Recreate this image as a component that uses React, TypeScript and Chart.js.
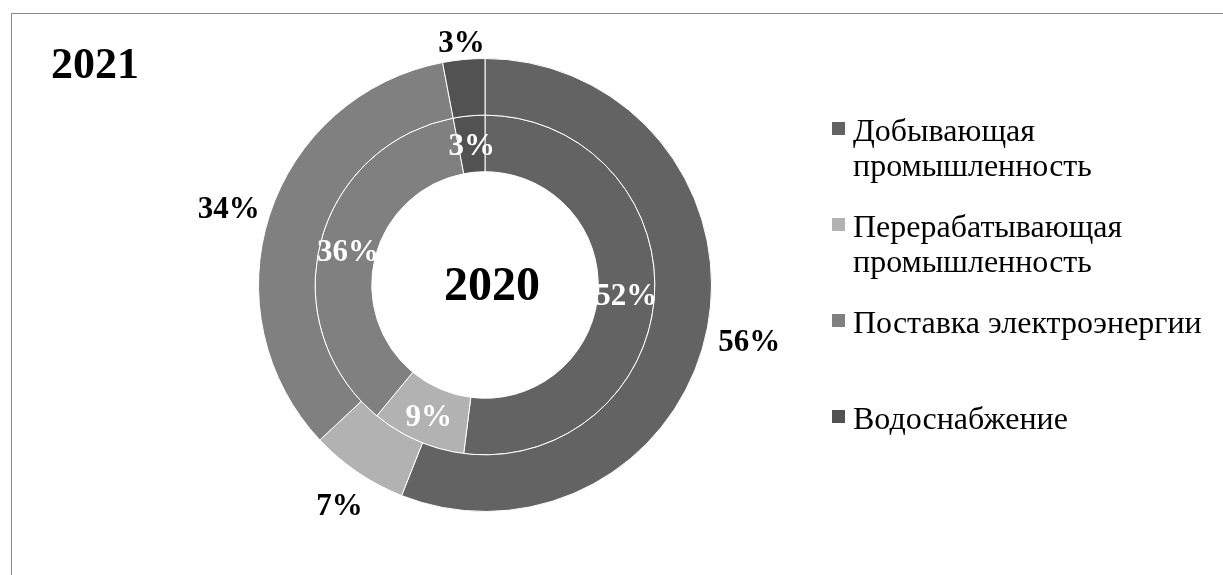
import React, { useEffect, useRef } from "react";
import { Chart, registerables } from "chart.js";

Chart.register(...registerables);

const categories = [
  "Добывающая промышленность",
  "Перерабатывающая промышленность",
  "Поставка электроэнергии",
  "Водоснабжение",
];
const years = ["2021", "2020"];
const values2021 = [56, 7, 34, 3];
const values2020 = [52, 9, 36, 3];
const colors = ["#636363", "#b2b2b2", "#808080", "#525252"];

const W = 1223;
const H = 575;

const labelPlugin = {
  id: "ringLabels",
  afterDatasetsDraw(chart: any) {
    const ctx = chart.ctx;
    ctx.save();
    let cx = 0;
    let cy = 0;
    chart.data.datasets.forEach((ds: any, di: number) => {
      const meta = chart.getDatasetMeta(di);
      meta.data.forEach((arc: any, i: number) => {
        const p = arc.getProps(["x", "y", "startAngle", "endAngle", "innerRadius", "outerRadius"], true);
        cx = p.x;
        cy = p.y;
        const mid = (p.startAngle + p.endAngle) / 2;
        const text = ds.data[i] + "%";
        ctx.font = "bold 31px 'Liberation Serif'";
        ctx.textAlign = "center";
        ctx.textBaseline = "middle";
        const c = Math.cos(mid);
        const s = Math.sin(mid);
        let r: number;
        let dy: number;
        if (di === 0) {
          const w = ctx.measureText(text).width;
          r = p.outerRadius + 10 + (Math.abs(c) * w) / 2 + Math.abs(s) * 11;
          dy = 8;
          ctx.fillStyle = "#000";
        } else {
          r = (p.innerRadius + p.outerRadius) / 2;
          dy = 3;
          ctx.fillStyle = "#ffffff";
        }
        ctx.fillText(text, p.x + c * r, p.y + s * r + dy);
      });
    });
    // centre label: inner ring year
    ctx.fillStyle = "#000";
    ctx.font = "bold 48px 'Liberation Serif'";
    ctx.textAlign = "center";
    ctx.textBaseline = "alphabetic";
    ctx.fillText(chart.data.datasets[1].label, cx + 7, cy + 15);
    // outer ring year, top-left
    ctx.font = "bold 44px 'Liberation Serif'";
    ctx.textAlign = "left";
    ctx.fillText(chart.data.datasets[0].label, 51, 78);
    ctx.restore();
  },
};

export default function App() {
  const ref = useRef<HTMLCanvasElement | null>(null);

  useEffect(() => {
    if (!ref.current) return;
    const chart = new Chart(ref.current, {
      type: "doughnut",
      data: {
        labels: categories,
        datasets: [
          {
            label: years[0],
            data: values2021,
            backgroundColor: colors,
            borderColor: "#ffffff",
            borderWidth: 1,
          },
          {
            label: years[1],
            data: values2020,
            backgroundColor: colors,
            borderColor: "#ffffff",
            borderWidth: 1,
          },
        ],
      },
      options: {
        responsive: false,
        animation: false,
        cutout: "50%",
        layout: {
          padding: { left: 258, right: 511, top: 58, bottom: 63 },
        },
        plugins: {
          legend: { display: false },
          tooltip: { enabled: false },
        },
      },
      plugins: [labelPlugin],
    });
    return () => chart.destroy();
  }, []);

  return (
    <div style={{ position: "fixed", left: 0, top: 0, width: W, height: H, background: "#fff", overflow: "hidden" }}>
      <div
        style={{
          position: "absolute",
          left: 11,
          top: 13,
          width: W + 50,
          height: H + 50,
          borderTop: "1px solid #8a8a8a",
          borderLeft: "1px solid #8a8a8a",
        }}
      />
      <canvas ref={ref} width={W} height={H} style={{ position: "absolute", left: 0, top: 0, width: W, height: H }} />
      {categories.map((name, i) => (
        <div
          key={name}
          style={{
            position: "absolute",
            left: 832,
            top: 113 + i * 96,
            display: "flex",
            alignItems: "flex-start",
            fontFamily: "'Liberation Serif', 'Times New Roman', serif",
            fontSize: 32,
            lineHeight: "35px",
            color: "#000",
          }}
        >
          <div style={{ width: 13, height: 13, marginTop: 9, marginRight: 8, background: colors[i], flex: "none" }} />
          <div style={{ width: 365 }}>{name}</div>
        </div>
      ))}
    </div>
  );
}
